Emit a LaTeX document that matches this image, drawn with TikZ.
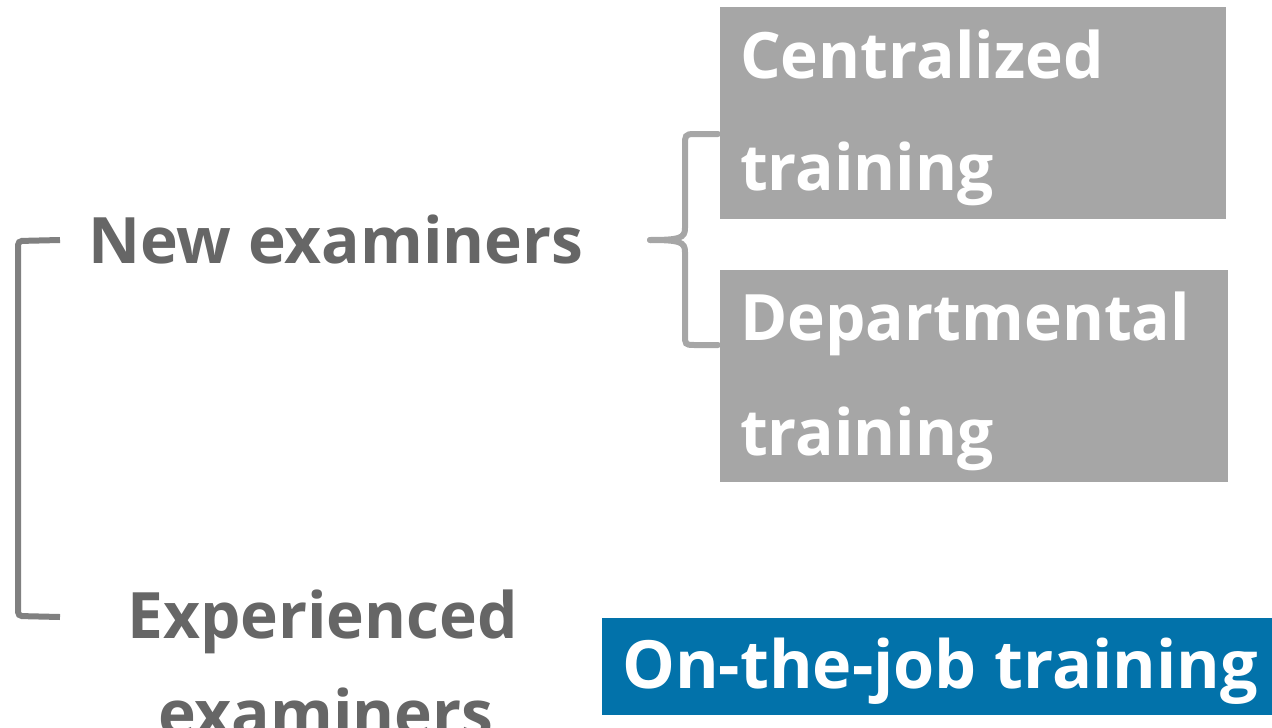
\documentclass[tikz,border=0pt]{standalone}
\usepackage{fontspec}
\setmainfont{Open Sans}
\usetikzlibrary{calc}
\definecolor{txtgray}{HTML}{666666}
\definecolor{boxgray}{HTML}{A6A6A6}
\definecolor{brgray}{HTML}{808080}
\definecolor{bluebox}{HTML}{0272AA}
\begin{document}
\begin{tikzpicture}[x=1pt,y=-1pt,
  lbl/.style={inner sep=0pt,anchor=base west,font=\fontsize{64}{76}\selectfont\bfseries},
  darklbl/.style={lbl,text=txtgray},
  whitelbl/.style={lbl,text=white},
  graybox/.style={fill=boxgray,inner sep=0pt,anchor=north west},
  bluefill/.style={fill=bluebox,inner sep=0pt,anchor=north west},
  leftbr/.style={draw=brgray,line width=6pt,rounded corners=4pt},
  curlybr/.style={draw=boxgray,line width=6pt,line cap=round}]
\useasboundingbox (0,0) rectangle (1272,728);
% boxes
\node[graybox,minimum width=506pt,minimum height=212pt] (cbox) at (720,7) {};
\node[graybox,minimum width=508pt,minimum height=212pt] (dbox) at (720,270) {};
\node[bluefill,minimum width=670pt,minimum height=97pt] (obox) at (602,618) {};
% texts
\node[darklbl] (new) at (88,263) {New examiners};
\node[darklbl] (exp1) at (127,638) {Experienced};
\node[darklbl] (exp2) at (158,736) {examiners};
\node[whitelbl] (c1) at (740,78) {Centralized};
\node[whitelbl] (c2) at (740,190) {training};
\node[whitelbl] (d1) at (740,340) {Departmental};
\node[whitelbl] (d2) at (740,455) {training};
\node[whitelbl,font=\fontsize{66.5}{78}\selectfont\bfseries] (ojt) at (622,688) {On-the-job training};
% left bracket
\coordinate (lbtop) at (60,240);
\coordinate (lbbot) at (60,617);
\draw[leftbr] (lbtop) -- (18,241) -- (18,616) -- (lbbot);
% curly brace
\coordinate (cbtop) at (718,134);
\coordinate (cbbot) at (718,345);
\coordinate (cbtip) at (650,240);
\draw[curlybr] (cbtop) -- (694,134) .. controls (685,134) and (685,136) .. (685,145)
  -- (685,228) .. controls (685,238) and (680,240) .. (cbtip);
\draw[curlybr] (cbtip) .. controls (680,240) and (685,242) .. (685,252)
  -- (685,335) .. controls (685,344) and (685,345) .. (694,345) -- (cbbot);
\end{tikzpicture}
\end{document}
